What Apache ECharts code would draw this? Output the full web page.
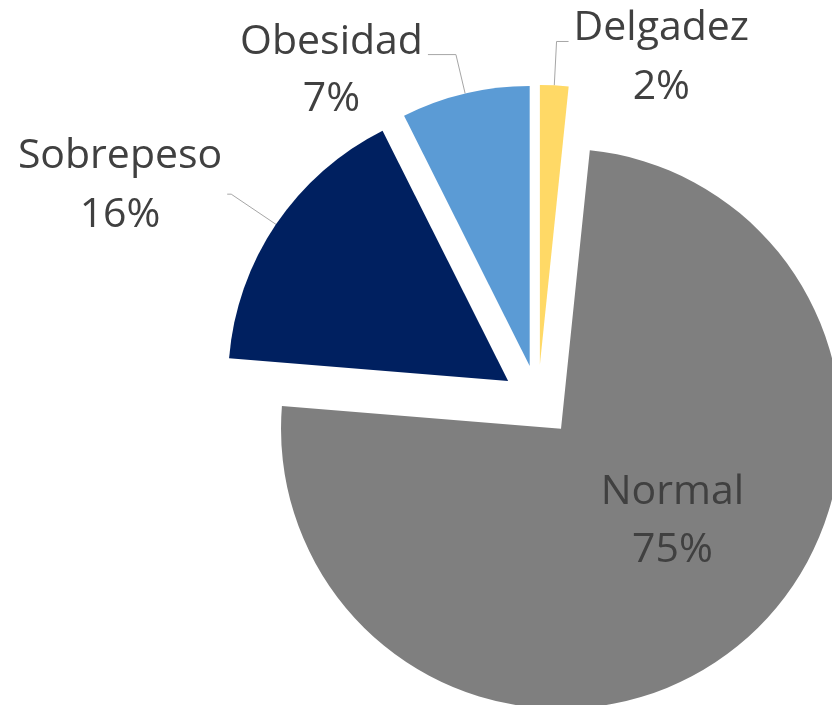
<!DOCTYPE html>
<html>
<head>
<meta charset="utf-8">
<script src="https://cdn.jsdelivr.net/npm/echarts@6/dist/echarts.min.js"></script>
<style>
html,body{margin:0;padding:0;background:#fff;}
#chart{width:832px;height:705px;}
</style>
</head>
<body>
<div id="chart"></div>
<script>
const categories = ['Delgadez', 'Normal', 'Sobrepeso', 'Obesidad'];
const values = [1.64, 74.6, 16.3, 7.4];
const colors = ['#FFD966', '#7F7F7F', '#002060', '#5B9BD5'];

// per-slice label line lengths and line-box heights of the two text rows
const labelCfg = [
  { length: 44, length2: 12, h1: 91, h2: 27 },
  { inside: true, padding: [0, 0, 34, 40] },
  { length: 54, length2: 4, h1: 42, h2: 76 },
  { length: 40, length2: 28, h1: 89, h2: 25 }
];

const baseText = {
  fontFamily: 'Open Sans',
  fontSize: 41,
  color: '#404040',
  align: 'center'
};

const data = categories.map((name, i) => {
  const cfg = labelCfg[i];
  const item = {
    name: name,
    value: values[i],
    selected: true,
    itemStyle: { color: colors[i] },
    select: { itemStyle: { color: colors[i] } }
  };
  if (cfg.inside) {
    item.label = {
      position: 'inside',
      padding: cfg.padding,
      rich: {
        a: Object.assign({ lineHeight: 58 }, baseText),
        b: Object.assign({ lineHeight: 58 }, baseText)
      }
    };
    item.labelLine = { show: false };
  } else {
    item.label = {
      position: 'outside',
      rich: {
        a: Object.assign({ lineHeight: cfg.h1 }, baseText),
        b: Object.assign({ lineHeight: cfg.h2 }, baseText)
      }
    };
    item.labelLine = { show: true, length: cfg.length, length2: cfg.length2 };
  }
  return item;
});

const chart = echarts.init(document.getElementById('chart'));
chart.setOption({
  animation: false,
  backgroundColor: '#ffffff',
  series: [{
    type: 'pie',
    center: [538, 401],
    radius: 280,
    startAngle: 90,
    clockwise: true,
    selectedMode: 'multiple',
    selectedOffset: 36,
    avoidLabelOverlap: false,
    emphasis: { disabled: true },
    itemStyle: { borderWidth: 0 },
    label: {
      show: true,
      fontFamily: 'Open Sans',
      fontSize: 41,
      color: '#404040',
      alignTo: 'none',
      overflow: 'none',
      distanceToLabelLine: 5,
      formatter: p => '{a|' + p.name + '}\n{b|' + Math.round(p.percent) + '%}'
    },
    labelLine: {
      show: true,
      smooth: false,
      lineStyle: { color: '#A6A6A6', width: 1 }
    },
    data: data
  }]
});
</script>
</body>
</html>
